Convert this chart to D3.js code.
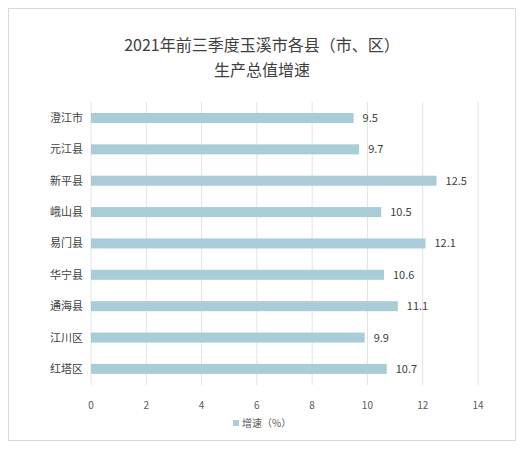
<!DOCTYPE html>
<html><head><meta charset="utf-8">
<script src="https://cdn.jsdelivr.net/npm/d3@7"></script>
<style>body{margin:0;background:#fff}text{font-family:"Noto Sans CJK SC",sans-serif}</style>
</head><body>
<svg id="chart" width="524" height="449"></svg>
<script>
const categories = ["澄江市","元江县","新平县","峨山县","易门县","华宁县","通海县","江川区","红塔区"];
const growth = [9.5, 9.7, 12.5, 10.5, 12.1, 10.6, 11.1, 9.9, 10.7];
const ticks = [0, 2, 4, 6, 8, 10, 12, 14];

const svg = d3.select("#chart");
svg.append("rect").attr("x", 8.5).attr("y", 8.5).attr("width", 507).attr("height", 432)
	.attr("fill", "#fff").attr("stroke", "#d9d9d9");

const x = d3.scaleLinear().domain([0, 14]).range([91, 478]);
const y = d3.scaleBand().domain(categories).range([102.3, 384.6]).paddingInner(0.68).paddingOuter(0.34);

svg.append("g").selectAll("line").data(ticks).join("line")
	.attr("x1", (d) => x(d)).attr("x2", (d) => x(d))
	.attr("y1", 102).attr("y2", 385)
	.attr("stroke", "#e3e3e3");

svg.append("g").selectAll("rect").data(growth).join("rect")
	.attr("x", x(0)).attr("y", (d, i) => y(categories[i]))
	.attr("width", (d) => x(d) - x(0)).attr("height", y.bandwidth())
	.attr("fill", "#a9cdd8");

svg.append("g").selectAll("text").data(growth).join("text")
	.attr("x", (d) => x(d) + 9).attr("y", (d, i) => y(categories[i]) + y.bandwidth() / 2 + 4)
	.attr("font-size", 11).attr("fill", "#404040").text((d) => d);

svg.append("g").selectAll("text").data(categories).join("text")
	.attr("x", 83).attr("y", (d) => y(d) + y.bandwidth() / 2 + 4)
	.attr("text-anchor", "end").attr("font-size", 11).attr("fill", "#404040").text((d) => d);

svg.append("g").selectAll("text").data(ticks).join("text")
	.attr("x", (d) => x(d)).attr("y", 409)
	.attr("text-anchor", "middle").attr("font-size", 10).attr("fill", "#595959").text((d) => d);

svg.append("text").attr("x", 262).attr("y", 51).attr("text-anchor", "middle")
	.attr("font-size", 16).attr("fill", "#404040").text("2021年前三季度玉溪市各县（市、区）");
svg.append("text").attr("x", 262).attr("y", 76).attr("text-anchor", "middle")
	.attr("font-size", 16).attr("fill", "#404040").text("生产总值增速");

svg.append("rect").attr("x", 233).attr("y", 420).attr("width", 6).attr("height", 6).attr("fill", "#a9cdd8");
svg.append("text").attr("x", 242).attr("y", 427).attr("font-size", 10).attr("fill", "#595959").text("增速（%）");
</script>
</body></html>
